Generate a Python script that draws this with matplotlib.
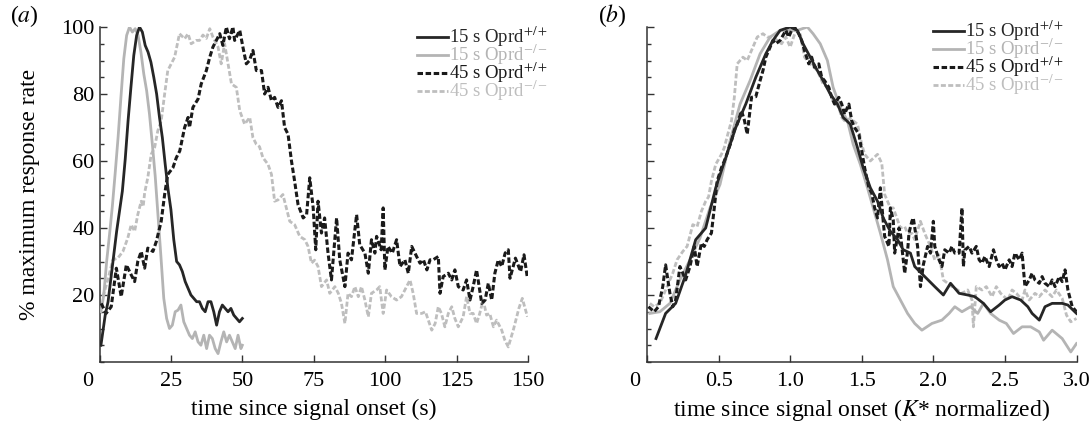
import matplotlib
matplotlib.use("Agg")
import matplotlib.pyplot as plt
from matplotlib.ticker import MultipleLocator
from matplotlib.transforms import ScaledTranslation

plt.rcParams["font.family"] = ["Liberation Serif", "DejaVu Serif"]
plt.rcParams["mathtext.fontset"] = "stix"

# ---- panel (a): raw time (s) ----
a15_wt_x = [0.5, 2, 3, 4, 5, 6, 7, 8, 9, 10, 11, 12, 13, 14, 15, 16, 17, 18, 19, 20, 21, 22, 23, 24, 25,
            26, 27, 28, 29, 30, 31, 32, 33, 34, 35, 36, 37, 38, 39, 40, 41, 42, 43, 44, 45, 46, 47, 48, 49, 50]
a15_wt_y = [5, 14, 18, 25, 32, 39, 45, 51, 60.5, 72, 82, 91.5, 97.5, 100, 98.5, 94.5, 92.5, 89.5, 85, 80,
            73, 67, 59, 51.5, 45.5, 36.5, 30, 29, 27, 24, 22, 20, 19, 18, 18, 16, 15, 18, 18, 15,
            11, 15, 17, 16, 15, 16, 14, 13, 12, 13]

a15_ko_x = [0.5, 1.5, 2.5, 3.5, 4.5, 5.5, 6.5, 7.5, 8.5, 9.5, 10.5, 11.5, 12.5, 13.5, 14.5, 15.5, 16.5,
            17.5, 18.5, 19.5, 20.5, 21.5, 22.5, 23.5, 24.5, 25.5, 26.5, 27.5, 28.5, 29.5, 30.5, 31.5,
            32.5, 33.5, 34.5, 35.5, 36.5, 37.5, 38.5, 39.5, 40.5, 41.5, 42.5, 43.5, 44.5, 45.5, 46.5,
            47.5, 48.5, 49.5, 50]
a15_ko_y = [15, 20, 30, 38, 46.5, 56.5, 67, 79, 90.5, 97.5, 100, 98.5, 99.5, 97.5, 92.5, 86, 81, 74, 65,
            55.5, 43.5, 31.5, 19, 13, 10, 11, 15, 15.5, 17, 12, 10, 8, 7, 9, 6, 5, 8, 4, 8, 7, 4, 2.5,
            6, 9, 6, 8, 6, 4, 8, 4, 5]

a45_wt_x = [0.6, 2.3, 4.1, 5.9, 7.6, 9.4, 11.1, 12.3, 13.4, 14.6, 15.8, 16.9, 18.7, 19.9, 21.6, 22.8,
            23.9, 25.7, 26.9, 28.1, 29.8, 31, 31.5, 32.7, 34.5, 35.6, 37.4, 38.6, 39.7, 40.9, 42.1,
            43.2, 44.4, 45.5, 46.7, 47.3, 49.1, 50.2, 51.4, 52.5, 53.7, 54.9, 56.7, 57.8, 59, 60.2,
            61.3, 62.5, 63.7, 64.8, 66, 67.2, 68.3, 69.5, 71.3, 72.5, 73.6, 74.8, 75.7, 76.5, 77.7,
            78.8, 80, 81.2, 83, 84.1, 85.9, 87, 88.2, 90, 91.1, 92.9, 94.1, 95.2, 96.4, 97, 98.6,
            99.3, 99.9, 101, 102.5, 104, 105.2, 106.9, 108.1, 109.3, 111, 112.2, 113.4, 114.6,
            115.7, 116.8, 118.6, 119.2, 120.3, 122.1, 123.3, 124.4, 125.6, 127.3, 128.5, 129.7,
            130.8, 132, 133.8, 135, 136.1, 137.3, 138.4, 139.6, 140.8, 142, 143.1, 143.7, 145.6,
            147.4, 148.6, 149.8]
a45_wt_y = [17.5, 14.5, 16.5, 28, 19.5, 29, 26, 24, 30, 33, 28, 34, 33, 36, 42, 50, 56, 58, 61, 63, 70,
            73, 70, 76, 78.5, 83, 87, 91, 94, 96, 98, 94.5, 100, 96.5, 100, 96, 99, 94, 89, 90, 93,
            87, 87, 80, 82, 78, 79, 76, 78, 70, 68, 60, 54, 47, 43, 44, 55, 46, 33.5, 48, 38.5, 43,
            32.5, 24.5, 43, 30.5, 22.5, 32.5, 30.5, 44, 35, 32.5, 26.5, 36.5, 32.5, 37.5, 33.5, 46,
            27.5, 34.5, 32.5, 36.5, 28.5, 30.5, 26.5, 34.5, 31.5, 29.5, 30.5, 27.5, 30.5, 30.5,
            31.5, 20.5, 25.5, 26.5, 24.5, 27.5, 22.5, 21.5, 24.5, 18.5, 22.5, 27.5, 17.5, 18.5,
            23.5, 18.5, 26.5, 30.5, 28.5, 32.5, 33.5, 25, 31, 27, 32, 25]

a45_ko_x = [1.2, 2.9, 4.7, 6.4, 8.2, 9.9, 11.1, 12.3, 13.4, 14.6, 15.3, 15.8, 16.9, 18.1, 19.3, 20.4,
            21.6, 22.8, 23.9, 25.1, 26.3, 28, 29.8, 31, 32.1, 33.9, 35, 36.2, 37.4, 38.6, 39.7, 41.5,
            42.6, 43.8, 45, 46.2, 47.9, 49.1, 50.8, 52.6, 53.7, 54.9, 56, 57.2, 59, 60.2, 61.3, 62.5,
            64.2, 65.4, 66.6, 68.3, 70.1, 71.9, 73, 74.2, 75.3, 76.5, 77.7, 79.5, 80.6, 82.4, 83.6,
            84.7, 85.9, 87, 88.2, 89.4, 90.6, 91.7, 92.9, 94.1, 95.2, 97, 98.1, 99.3, 100.5, 102.2,
            104, 105.7, 107.5, 108.7, 109.8, 111, 112.8, 114.1, 115.1, 116.3, 117.5, 118.6, 119.7,
            120.9, 122.1, 123.3, 124.4, 125.6, 127.3, 128.5, 129.7, 130.8, 132, 133.1, 134.3, 135.5,
            136.6, 137.9, 139, 140.8, 141.9, 143.1, 145, 146.8, 148, 149.8]
a45_ko_y = [19.5, 24.5, 30.5, 31, 33, 37, 41, 39, 44, 48, 46.4, 50.5, 55, 62, 64, 69, 72, 80, 87, 89,
            91, 98, 96.5, 98, 95, 96, 96, 97.6, 96.6, 99.5, 97, 94, 89, 95, 89, 83, 82, 75, 71, 73,
            67, 65, 64.3, 61, 59, 56, 48, 48.4, 50, 46, 42, 41, 37.5, 36.5, 34.5, 29.5, 30.4, 28.5,
            22.5, 24.5, 20.5, 22.5, 20.5, 17.5, 11.5, 20.5, 19.5, 22.5, 19.5, 22.5, 18.5, 13.5, 20.5,
            21.5, 22.5, 14.5, 21.5, 19.5, 18.5, 19.5, 22.5, 24.5, 20.5, 14.5, 14.5, 15, 12.5, 9.5,
            11.5, 16.5, 14.5, 10.5, 14.5, 16.5, 13, 10.5, 13.5, 19.5, 14.5, 14.5, 11.5, 14.5, 18.5,
            14, 14.5, 10.5, 12.5, 9.5, 6.5, 4.5, 10, 16, 19, 13.5]

# ---- panel (b): normalized time (K*) ----
b15_wt_x = [0.063, 0.13, 0.2, 0.27, 0.34, 0.41, 0.48, 0.55, 0.62, 0.69, 0.76, 0.83, 0.88, 0.93, 1.0,
            1.05, 1.09, 1.14, 1.19, 1.23, 1.28, 1.33, 1.37, 1.42, 1.47, 1.51, 1.56, 1.61, 1.65, 1.7,
            1.75, 1.79, 1.84, 1.87, 1.94, 2.01, 2.07, 2.12, 2.18, 2.24, 2.29, 2.35, 2.4, 2.46, 2.5,
            2.55, 2.61, 2.66, 2.69, 2.74, 2.78, 2.83, 2.9, 2.94, 3.0]
b15_wt_y = [7, 14.5, 17.5, 26, 36.5, 40, 52, 61, 70, 77, 85, 92, 96, 99, 100, 99, 95, 91, 87, 84, 80,
            77, 73, 71, 64, 58, 52, 48, 43, 39, 36.5, 33.5, 32.5, 28.5, 25.5, 22.5, 20, 23.5, 20.5,
            20, 19.5, 17.5, 15, 17, 18.5, 19.5, 18.5, 16.5, 14.5, 12.5, 16.5, 17.5, 17.5, 17, 14.5]

b15_ko_x = [0.02, 0.09, 0.16, 0.23, 0.3, 0.37, 0.44, 0.51, 0.58, 0.65, 0.72, 0.79, 0.86, 0.93, 1.05,
            1.12, 1.16, 1.21, 1.26, 1.3, 1.35, 1.4, 1.44, 1.49, 1.54, 1.58, 1.63, 1.68, 1.72, 1.77,
            1.82, 1.87, 1.92, 1.99, 2.06, 2.11, 2.15, 2.2, 2.26, 2.31, 2.35, 2.4, 2.46, 2.51, 2.56,
            2.62, 2.68, 2.74, 2.77, 2.83, 2.9, 2.96, 3.0]
b15_ko_y = [14.5, 15, 17.5, 24.5, 30.5, 37, 46, 53, 66, 77, 84, 92, 97, 99, 99, 100, 98, 95, 90, 82,
            76, 72, 65, 59, 52, 46, 38.5, 30.5, 22.5, 18.5, 14.5, 11.5, 9.5, 11.5, 12.5, 14.5, 16.5,
            15, 16.5, 14.5, 17.5, 14.5, 12.5, 11.5, 8.5, 10.5, 10.5, 9, 6.5, 9.5, 7, 3, 5.5]

b45_wt_x = [0.01, 0.05, 0.08, 0.11, 0.13, 0.16, 0.18, 0.2, 0.23, 0.25, 0.27, 0.3, 0.33, 0.35, 0.38,
            0.4, 0.42, 0.45, 0.47, 0.49, 0.52, 0.54, 0.56, 0.59, 0.61, 0.63, 0.66, 0.68, 0.7, 0.73,
            0.76, 0.79, 0.81, 0.83, 0.86, 0.88, 0.9, 0.93, 0.97, 0.99, 1.01, 1.03, 1.06, 1.08, 1.1,
            1.13, 1.15, 1.17, 1.2, 1.22, 1.24, 1.27, 1.29, 1.31, 1.34, 1.36, 1.38, 1.41, 1.43, 1.45,
            1.48, 1.5, 1.52, 1.55, 1.57, 1.59, 1.61, 1.63, 1.65, 1.66, 1.69, 1.7, 1.72, 1.73, 1.76,
            1.77, 1.79, 1.8, 1.82, 1.83, 1.85, 1.86, 1.89, 1.91, 1.93, 1.96, 1.98, 2.0, 2.01, 2.04,
            2.06, 2.08, 2.11, 2.13, 2.15, 2.18, 2.2, 2.21, 2.22, 2.25, 2.27, 2.3, 2.32, 2.34, 2.36,
            2.39, 2.42, 2.44, 2.46, 2.48, 2.5, 2.53, 2.55, 2.57, 2.6, 2.62, 2.64, 2.67, 2.69, 2.71,
            2.74, 2.76, 2.78, 2.81, 2.83, 2.85, 2.88, 2.9, 2.92, 2.94, 2.97, 3.0]
b45_wt_y = [16.5, 15, 16.5, 22.5, 29, 20.5, 16.5, 18.5, 28.5, 26.5, 24.5, 28.5, 34.5, 28.5, 35.5,
            34.5, 36.5, 38.5, 46, 54, 58, 60, 62.3, 66, 69.3, 71, 75, 72.2, 68, 79, 79.2, 84, 87, 91,
            94, 96, 95, 96, 99, 97, 99, 100, 98, 96, 93, 89, 91, 88, 89, 85, 84, 82, 79, 77, 79, 77,
            74, 77, 72, 70, 68, 63, 58, 52, 50.4, 46, 43, 52, 42, 37.5, 34.5, 46, 42.4, 32.5, 40,
            38.4, 30.5, 26.5, 33, 38.5, 42, 43, 34.5, 22.5, 29, 34.5, 32.5, 42, 34.5, 30.5, 28.5,
            33.5, 32.5, 34.5, 32.5, 32.5, 46, 28.5, 33.4, 34.5, 32.5, 34.5, 30.5, 29.5, 31.5, 28.5,
            33.5, 30.5, 28.5, 29.5, 27.5, 30.5, 28.5, 32.5, 30.5, 32.5, 22.5, 24.5, 26.5, 24.5,
            23.5, 25.5, 23.5, 22.5, 24.5, 22.5, 25.5, 24, 27.5, 21.5, 16.5, 15]

b45_ko_x = [0.02, 0.05, 0.09, 0.11, 0.14, 0.18, 0.21, 0.25, 0.28, 0.32, 0.35, 0.38, 0.41, 0.43, 0.45,
            0.48, 0.52, 0.54, 0.56, 0.59, 0.61, 0.63, 0.67, 0.7, 0.74, 0.77, 0.81, 0.84, 0.88, 0.91,
            0.94, 0.97, 1.0, 1.04, 1.07, 1.1, 1.14, 1.19, 1.23, 1.26, 1.3, 1.34, 1.36, 1.38, 1.42,
            1.47, 1.5, 1.52, 1.56, 1.61, 1.64, 1.66, 1.7, 1.72, 1.75, 1.77, 1.8, 1.82, 1.85, 1.87,
            1.91, 1.94, 1.98, 2.01, 2.04, 2.07, 2.1, 2.13, 2.17, 2.2, 2.24, 2.27, 2.28, 2.3, 2.34,
            2.37, 2.41, 2.44, 2.47, 2.52, 2.55, 2.58, 2.62, 2.64, 2.67, 2.71, 2.74, 2.78, 2.83,
            2.86, 2.9, 2.93, 2.96, 3.0]
b45_ko_y = [17.5, 16.5, 17.5, 19.5, 22.5, 26.5, 30.5, 33, 34.5, 41, 40.4, 45, 48, 49.3, 54, 59, 62,
            64, 67.3, 72, 79, 89, 91, 90, 94, 97, 98, 97, 97, 96, 95, 97, 94, 99, 98, 91, 89, 87, 83,
            82, 78, 76, 73, 72, 72.7, 71, 65, 62, 60, 62, 59.3, 50, 46, 46, 42.4, 40, 40.4, 38.5,
            38.4, 36.5, 42, 38.4, 34.5, 30.5, 32, 24.5, 23.5, 22.5, 21.5, 20.5, 21.5, 18.5, 10.5,
            22.5, 21.5, 22.5, 19.5, 22.5, 20.5, 18.5, 21.5, 20.5, 18.5, 21.5, 18.5, 20.5, 19.5,
            21.5, 19.5, 21.5, 19, 14, 12, 13]

labels = ["15 s Oprd$^{+/+}$", "15 s Oprd$^{-/-}$", "45 s Oprd$^{+/+}$", "45 s Oprd$^{-/-}$"]
colors = ["#262626", "#b4b4b4", "#1a1a1a", "#bebebe"]
widths = [2.0, 2.0, 2.2, 2.0]
dash = (0, (1.8, 0.85))
styles = ["-", "-", dash, dash]

W, H = 1092, 430
fig = plt.figure(figsize=(W / 100, H / 100), dpi=100)
ax_a = fig.add_axes([99.5 / W, 68 / H, 428.5 / W, 335 / H])
ax_b = fig.add_axes([647 / W, 68 / H, 429.5 / W, 335 / H])

series_a = [(a15_wt_x, a15_wt_y), (a15_ko_x, a15_ko_y), (a45_wt_x, a45_wt_y), (a45_ko_x, a45_ko_y)]
series_b = [(b15_wt_x, b15_wt_y), (b15_ko_x, b15_ko_y), (b45_wt_x, b45_wt_y), (b45_ko_x, b45_ko_y)]

leg_handles = {}
for ax, series in [(ax_a, series_a), (ax_b, series_b)]:
    lines = [None] * 4
    # light curves first so the dark ones sit on top
    for i in [3, 1, 2, 0]:
        xs, ys = series[i]
        lines[i], = ax.plot(xs, ys, color=colors[i], ls=styles[i], lw=widths[i],
                            zorder=3 + (i in (0, 2)))
    leg_handles[ax] = lines
    ax.set_ylim(0, 100)
    ax.spines["top"].set_visible(False)
    ax.spines["right"].set_visible(False)
    for s in ("left", "bottom"):
        ax.spines[s].set_color("#333333")
        ax.spines[s].set_linewidth(1.1)
    ax.set_yticks([20, 40, 60, 80, 100])
    ax.yaxis.set_minor_locator(MultipleLocator(5))
    ax.tick_params(which="both", direction="in", color="#333333", width=1.0, labelsize=16)
    ax.tick_params(which="major", length=5)
    ax.tick_params(which="minor", length=3)
    ax.tick_params(axis="x", pad=7)
    ax.tick_params(axis="y", pad=3.5)

ax_a.set_xlim(0, 150)
ax_a.set_xticks([0, 25, 50, 75, 100, 125, 150])
ax_a.set_ylabel("% maximum response rate", fontsize=17, va="center")
ax_a.yaxis.set_label_coords(-0.1645, 0.5)
ax_a.set_xlabel("time since signal onset (s)", fontsize=17, va="center")
ax_a.xaxis.set_label_coords(0.5, -0.143)

ax_b.set_xlim(0, 3.0)
ax_b.set_xticks([0, 0.5, 1.0, 1.5, 2.0, 2.5, 3.0])
ax_b.set_xticklabels(["0", "0.5", "1.0", "1.5", "2.0", "2.5", "3.0"])
ax_b.set_yticklabels([])
ax_b.set_xlabel("time since signal onset ($K$* normalized)", fontsize=17, va="center")
ax_b.xaxis.set_label_coords(0.5, -0.143)

# the "0" labels sit a little left of the axis corner
for ax in (ax_a, ax_b):
    lab0 = ax.get_xticklabels()[0]
    lab0.set_transform(lab0.get_transform() + ScaledTranslation(-12 / 100, 0, fig.dpi_scale_trans))

for ax, x0, y0 in [(ax_a, 416.7, 25), (ax_b, 933, 19)]:
    ax.legend(leg_handles[ax], labels, loc="upper left",
              bbox_to_anchor=(x0 / W, 1 - y0 / H), bbox_transform=fig.transFigure,
              frameon=False, fontsize=13.5, handlelength=1.65, handletextpad=0.05,
              labelspacing=-0.34, borderpad=0, borderaxespad=0, labelcolor="linecolor")

fig.text(10 / W, 1 - 16 / H, "($a$)", fontsize=17, va="center", ha="left")
fig.text(598 / W, 1 - 16 / H, "($b$)", fontsize=17, va="center", ha="left")

fig.savefig("out.png", dpi=100)
